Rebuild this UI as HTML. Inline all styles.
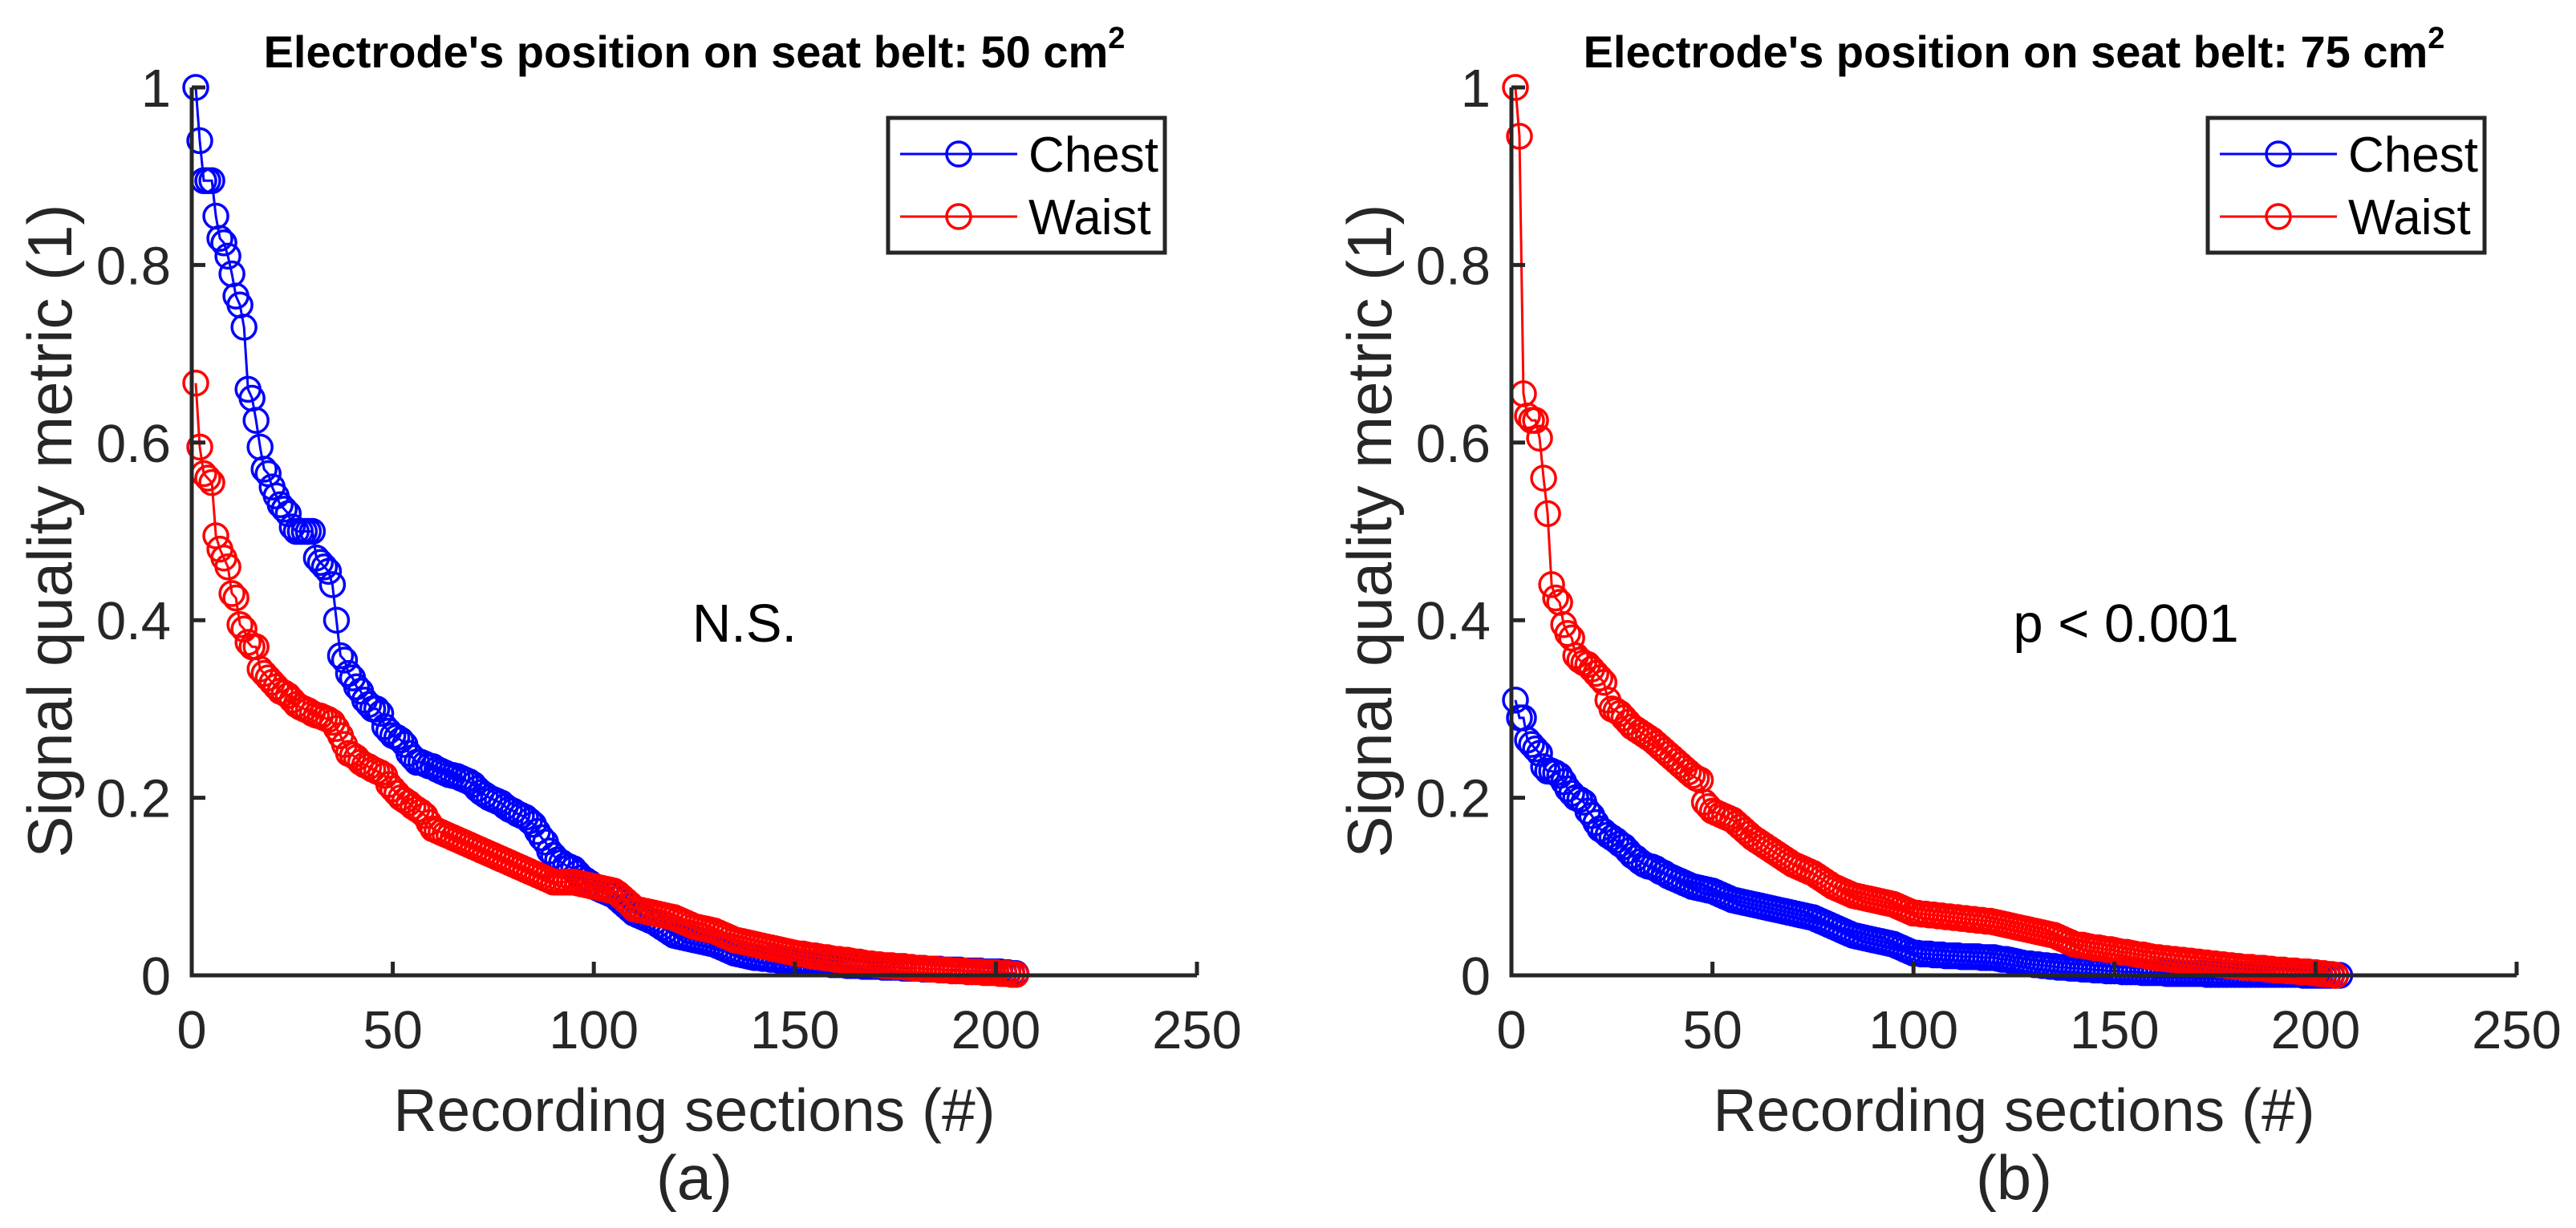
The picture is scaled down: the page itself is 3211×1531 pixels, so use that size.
<!DOCTYPE html>
<html><head><meta charset="utf-8"><style>
html,body{margin:0;padding:0;background:#fff;}
svg{display:block;font-family:"Liberation Sans",Arial,sans-serif;}
</style></head><body>
<svg id="fig" width="3211" height="1531" viewBox="0 0 3211 1531" xmlns="http://www.w3.org/2000/svg"></svg>
<script>
const xTicks=[0,50,100,150,200,250];
const yTicks=[0,0.2,0.4,0.6,0.8,1];
const yTickLabels=["0","0.2","0.4","0.6","0.8","1"];
const seriesNames=["Chest","Waist"];
const aChest=[1.0,0.94,0.895,0.895,0.895,0.855,0.83,0.825,0.81,0.79,0.765,0.755,0.73,0.66,0.65,0.625,0.595,0.57,0.565,0.55,0.54,0.53,0.525,0.52,0.505,0.5,0.5,0.5,0.5,0.5,0.47,0.465,0.46,0.455,0.44,0.40,0.36,0.355,0.34,0.335,0.325,0.32,0.31,0.305,0.3,0.3,0.295,0.28,0.275,0.27,0.268,0.265,0.26,0.25,0.245,0.24,0.24,0.238,0.236,0.235,0.232,0.23,0.228,0.226,0.225,0.224,0.222,0.22,0.218,0.215,0.21,0.206,0.203,0.2,0.198,0.196,0.194,0.19,0.187,0.185,0.182,0.18,0.178,0.174,0.17,0.162,0.155,0.15,0.14,0.135,0.13,0.127,0.124,0.122,0.12,0.115,0.11,0.107,0.104,0.1,0.098,0.096,0.094,0.092,0.09,0.086,0.082,0.078,0.074,0.07,0.068,0.066,0.064,0.062,0.06,0.057,0.054,0.051,0.048,0.045,0.044,0.043,0.042,0.041,0.04,0.039,0.038,0.037,0.036,0.035,0.033,0.031,0.029,0.027,0.025,0.024,0.023,0.022,0.021,0.02,0.02,0.019,0.019,0.018,0.018,0.017,0.017,0.016,0.016,0.015,0.015,0.015,0.014,0.014,0.014,0.013,0.013,0.013,0.012,0.012,0.012,0.012,0.011,0.011,0.011,0.011,0.01,0.01,0.01,0.01,0.01,0.009,0.009,0.009,0.009,0.009,0.008,0.008,0.008,0.008,0.008,0.007,0.007,0.007,0.007,0.007,0.006,0.006,0.006,0.006,0.006,0.005,0.005,0.005,0.005,0.005,0.004,0.004,0.004,0.004,0.004,0.003,0.003,0.002,0.002];
const aWaist=[0.667,0.595,0.565,0.56,0.555,0.495,0.48,0.47,0.46,0.43,0.425,0.395,0.39,0.375,0.37,0.37,0.345,0.34,0.335,0.33,0.325,0.32,0.318,0.315,0.31,0.305,0.302,0.3,0.298,0.295,0.293,0.292,0.29,0.288,0.285,0.278,0.27,0.26,0.25,0.248,0.245,0.24,0.237,0.235,0.232,0.23,0.228,0.225,0.215,0.21,0.205,0.2,0.197,0.194,0.19,0.187,0.184,0.18,0.172,0.165,0.163,0.161,0.159,0.157,0.155,0.153,0.151,0.149,0.147,0.145,0.143,0.141,0.139,0.137,0.135,0.133,0.131,0.129,0.127,0.125,0.123,0.121,0.119,0.117,0.115,0.113,0.111,0.109,0.107,0.105,0.105,0.105,0.105,0.105,0.105,0.104,0.103,0.102,0.101,0.1,0.099,0.098,0.097,0.096,0.095,0.092,0.088,0.084,0.08,0.075,0.074,0.073,0.072,0.071,0.07,0.069,0.068,0.067,0.066,0.065,0.063,0.061,0.059,0.057,0.055,0.054,0.053,0.052,0.051,0.05,0.048,0.046,0.044,0.042,0.04,0.039,0.038,0.037,0.036,0.035,0.034,0.033,0.032,0.031,0.03,0.029,0.028,0.027,0.026,0.025,0.024,0.024,0.023,0.022,0.022,0.021,0.02,0.02,0.019,0.018,0.018,0.017,0.017,0.016,0.015,0.015,0.014,0.013,0.013,0.012,0.012,0.011,0.011,0.011,0.01,0.01,0.01,0.009,0.009,0.008,0.008,0.008,0.007,0.007,0.007,0.006,0.006,0.006,0.005,0.005,0.005,0.005,0.004,0.004,0.004,0.004,0.003,0.003,0.003,0.003,0.002,0.002,0.002,0.001,0.001];
const bChest=[0.31,0.29,0.29,0.265,0.26,0.255,0.25,0.235,0.23,0.23,0.228,0.225,0.218,0.21,0.205,0.2,0.198,0.195,0.185,0.18,0.172,0.165,0.162,0.158,0.155,0.152,0.148,0.145,0.14,0.135,0.132,0.128,0.125,0.123,0.122,0.12,0.117,0.115,0.112,0.11,0.108,0.106,0.104,0.102,0.1,0.099,0.098,0.097,0.096,0.095,0.093,0.091,0.089,0.087,0.085,0.084,0.083,0.082,0.081,0.08,0.079,0.078,0.077,0.076,0.075,0.074,0.073,0.072,0.071,0.07,0.069,0.068,0.067,0.066,0.065,0.063,0.061,0.059,0.057,0.055,0.053,0.051,0.049,0.047,0.045,0.044,0.043,0.042,0.041,0.04,0.039,0.038,0.037,0.036,0.035,0.033,0.031,0.029,0.027,0.025,0.025,0.024,0.024,0.024,0.023,0.023,0.023,0.022,0.022,0.022,0.022,0.021,0.021,0.021,0.021,0.021,0.02,0.02,0.02,0.02,0.019,0.018,0.018,0.017,0.016,0.015,0.014,0.013,0.013,0.012,0.012,0.011,0.011,0.01,0.01,0.009,0.009,0.009,0.008,0.008,0.008,0.007,0.007,0.007,0.006,0.006,0.006,0.005,0.005,0.005,0.005,0.004,0.004,0.004,0.004,0.004,0.003,0.003,0.003,0.003,0.003,0.003,0.002,0.002,0.002,0.002,0.002,0.002,0.002,0.002,0.002,0.002,0.001,0.001,0.001,0.001,0.001,0.001,0.001,0.001,0.001,0.001,0.001,0.001,0.001,0.001,0.001,0.001,0.001,0.001,0.001,0.001,0.001,0.001,0.001,0.001,0,0,0,0,0,0,0,0,0,0];
const bWaist=[1.0,0.945,0.655,0.63,0.625,0.625,0.605,0.56,0.52,0.44,0.425,0.42,0.395,0.385,0.38,0.36,0.355,0.352,0.35,0.345,0.34,0.335,0.33,0.31,0.3,0.298,0.295,0.29,0.285,0.28,0.277,0.274,0.271,0.268,0.265,0.261,0.257,0.253,0.249,0.245,0.241,0.237,0.233,0.229,0.225,0.222,0.22,0.195,0.19,0.185,0.183,0.181,0.179,0.177,0.175,0.171,0.167,0.163,0.159,0.155,0.152,0.149,0.146,0.143,0.14,0.137,0.134,0.131,0.128,0.125,0.123,0.121,0.119,0.117,0.115,0.112,0.109,0.106,0.103,0.1,0.098,0.096,0.094,0.092,0.09,0.089,0.088,0.087,0.086,0.085,0.084,0.083,0.082,0.081,0.08,0.078,0.076,0.074,0.072,0.07,0.07,0.069,0.069,0.068,0.068,0.067,0.067,0.066,0.066,0.065,0.065,0.064,0.064,0.063,0.063,0.062,0.062,0.061,0.061,0.06,0.059,0.058,0.057,0.056,0.055,0.054,0.053,0.052,0.051,0.05,0.049,0.048,0.047,0.046,0.045,0.043,0.041,0.039,0.037,0.035,0.034,0.034,0.033,0.032,0.031,0.031,0.03,0.029,0.029,0.028,0.027,0.026,0.026,0.025,0.024,0.023,0.023,0.022,0.021,0.02,0.02,0.019,0.019,0.018,0.018,0.017,0.017,0.016,0.016,0.015,0.015,0.014,0.014,0.013,0.013,0.012,0.012,0.011,0.011,0.01,0.01,0.009,0.009,0.009,0.008,0.008,0.008,0.007,0.007,0.006,0.006,0.006,0.005,0.005,0.005,0.004,0.004,0.004,0.003,0.003,0.002,0.002,0.001,0.001,0];

const NS="http://www.w3.org/2000/svg";
const svg=document.getElementById('fig');
function el(tag,attrs,parent,text){const e=document.createElementNS(NS,tag);for(const k in attrs)e.setAttribute(k,attrs[k]);if(text!==undefined)e.textContent=text;(parent||svg).appendChild(e);return e;}

function panel(cfg){
  const g=el('g',{});
  
  
  const x0=cfg.x0,x1=cfg.x0+1253,yB=1216,yT=109;
  const sx=v=>x0+v/250*(x1-x0);
  const sy=v=>yB-v*(yB-yT);
  const cols=['#0000ff','#ff0000'];
  [cfg.chest,cfg.waist].forEach((arr,si)=>{
    const sg=el('g',{},g);
    
    
    const pts=arr.map((v,i)=>sx(i+1).toFixed(1)+','+sy(v).toFixed(1)).join(' ');
    const pl=el('polyline',{points:pts,fill:'none',stroke:cols[si],'stroke-width':3},sg);
    
    
    arr.forEach((v,i)=>{
      const c=el('circle',{cx:sx(i+1),cy:sy(v),r:15,fill:'none',stroke:cols[si],'stroke-width':3.5},sg);
      
      
    });
  });
  const ax=el('path',{d:`M${x0},${yT} L${x0},${yB} L${x1},${yB}`,fill:'none',stroke:'#262626','stroke-width':5},g);
  
  
  xTicks.forEach(t=>{
    el('line',{x1:sx(t),x2:sx(t),y1:yB,y2:yB-17,stroke:'#262626','stroke-width':5},g);
    const tl=el('text',{x:sx(t),y:1307,'text-anchor':'middle','font-size':67,fill:'#262626'},g,String(t));
    
    
  });
  yTicks.forEach((t,i)=>{
    el('line',{x1:x0,x2:x0+17,y1:sy(t),y2:sy(t),stroke:'#262626','stroke-width':5},g);
    const tl=el('text',{x:x0-26,y:sy(t)+24,'text-anchor':'end','font-size':67,fill:'#262626'},g,yTickLabels[i]);
    
    
  });
  const xl=el('text',{x:(x0+x1)/2,y:1410,'text-anchor':'middle','font-size':75,fill:'#262626'},g,'Recording sections (#)');
  
  
  const yl=el('text',{x:0,y:0,'text-anchor':'middle','font-size':78,fill:'#262626',transform:`translate(${x0-150},662) rotate(-90)`},g,'Signal quality metric (1)');
  
  
  const cap=el('text',{x:(x0+x1)/2,y:1495,'text-anchor':'middle','font-size':78,fill:'#262626'},g,cfg.caption);
  
  
  const ti=el('text',{x:(x0+x1)/2,y:84,'text-anchor':'middle','font-size':56,'font-weight':'bold',fill:'#000'},g);
  
  
  el('tspan',{},ti,"Electrode's position on seat belt: "+cfg.area+" cm");
  el('tspan',{dy:-24,'font-size':38},ti,'2');
  const an=el('text',{x:cfg.annX,y:800,'text-anchor':'middle','font-size':67,fill:'#000'},g,cfg.ann);
  
  
  const lg=el('g',{},g);
  
  
  const lx=x1-385;
  el('rect',{x:lx,y:147,width:345,height:168,fill:'#fff',stroke:'#262626','stroke-width':5},lg);
  seriesNames.forEach((n,i)=>{
    const ly=192+i*78;
    const en=el('g',{},lg);
    
    
    el('line',{x1:lx+15,x2:lx+161,y1:ly,y2:ly,stroke:cols[i],'stroke-width':3},en);
    el('circle',{cx:lx+88,cy:ly,r:15,fill:'none',stroke:cols[i],'stroke-width':3.5},en);
    el('text',{x:lx+175,y:ly+22,'font-size':62,fill:'#000'},en,n);
  });
}
panel({name:'panel-a',x0:239,chest:aChest,waist:aWaist,caption:'(a)',area:'50',ann:'N.S.',annX:928});
panel({name:'panel-b',x0:1884,chest:bChest,waist:bWaist,caption:'(b)',area:'75',ann:'p < 0.001',annX:2650});
</script>
</body></html>
